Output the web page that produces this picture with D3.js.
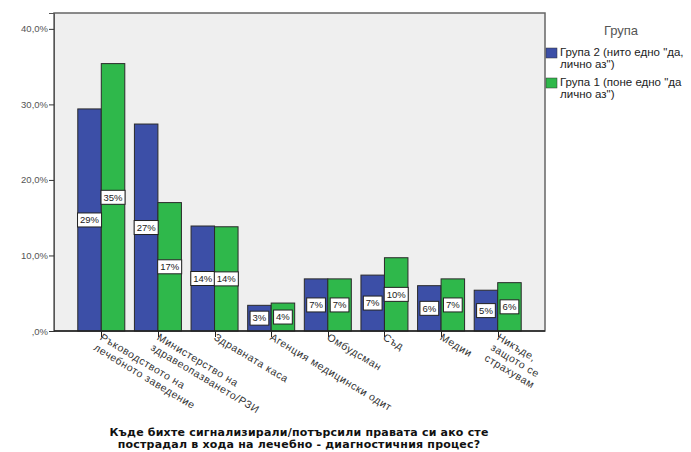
<!DOCTYPE html>
<html>
<head>
<meta charset="utf-8">
<script src="https://cdn.jsdelivr.net/npm/d3@7"></script>
<style>
body { margin: 0; background: #fff; }
text { font-family: "Liberation Sans", Arial, sans-serif; }
</style>
</head>
<body>
<svg id="drawarea"></svg>
<script>
var categories = [
    "Ръководството на\nлечебното заведение",
    "Министерство на\nздравеопазването/РЗИ",
    "Здравната каса",
    "Агенция медицински одит",
    "Омбудсман",
    "Съд",
    "Медии",
    "Никъде,\nзащото се\nстрахувам"
];
var group2 = [29.4, 27.4, 13.9, 3.4, 6.9, 7.4, 6.0, 5.4];
var group1 = [35.4, 17.0, 13.8, 3.7, 6.9, 9.7, 6.9, 6.4];
var seriesNames = ["Група 2 (нито едно \"да,\nлично аз\")", "Група 1 (поне едно \"да\nлично аз\")"];
var yTicks = [0, 10, 20, 30, 40];
var legendTitle = "Група";
var xTitle = ["Къде бихте сигнализирали/потърсили правата си ако сте", "пострадал в хода на лечебно - диагностичния процес?"];

var colors = ["#3c4fa7", "#2fb84b"];

var svg = d3.select("#drawarea").attr("width", 691).attr("height", 452);

var plotL = 54, plotR = 545, plotT = 13, plotB = 331;

var x = d3.scaleBand().domain(d3.range(categories.length))
    .range([plotL, plotR]).paddingInner(0.17).paddingOuter(0.42);
var xs = d3.scaleBand().domain([0, 1]).range([0, x.bandwidth()]);
var y = d3.scaleLinear().domain([0, 42.1]).range([plotB, plotT]);

// plot frame
svg.append("rect")
    .attr("x", plotL).attr("y", plotT)
    .attr("width", plotR - plotL).attr("height", plotB - plotT)
    .attr("fill", "#efefef").attr("stroke", "#666").attr("stroke-width", 1.5);

// y axis
var yAxis = svg.append("g").attr("transform", "translate(" + plotL + ",0)")
    .call(d3.axisLeft(y).tickValues(yTicks).tickSize(5).tickPadding(1)
        .tickFormat(function(d){ return d == 0 ? ",0%" : d3.format(".1f")(d).replace(".", ",") + "%"; }));
yAxis.select(".domain").attr("stroke", "#555");
yAxis.selectAll(".tick line").attr("stroke", "#333");
yAxis.selectAll("text").attr("font-size", 9.5).attr("fill", "#555")
    .style("font-family", "'Liberation Sans', Arial, sans-serif");

// bars
var data = [group2, group1];
var groups = svg.append("g");
data.forEach(function(series, s){
    groups.selectAll(".bar" + s)
        .data(series)
        .enter().append("rect")
        .attr("class", "bar" + s)
        .attr("x", function(d, i){ return x(i) + xs(s); })
        .attr("y", function(d){ return y(d); })
        .attr("width", xs.bandwidth())
        .attr("height", function(d){ return y(0) - y(d); })
        .attr("fill", colors[s])
        .attr("stroke", "#2a2a2a").attr("stroke-width", 1);
});

// value labels
data.forEach(function(series, s){
    series.forEach(function(d, i){
        var cx = x(i) + xs(s) + xs.bandwidth() / 2;
        var cy = (y(d) + y(0)) / 2;
        var g = svg.append("g").attr("transform", "translate(" + cx + "," + cy + ")");
        var box = g.append("rect").attr("fill", "#fff").attr("stroke", "#222").attr("stroke-width", 1);
        var t = g.append("text").attr("text-anchor", "middle").attr("dy", "0.35em")
            .attr("font-size", 9.5).attr("fill", "#222")
            .text(Math.round(d) + "%");
        var w = t.node().getComputedTextLength() + 5;
        box.attr("x", -w / 2).attr("y", -7).attr("width", w).attr("height", 14);
    });
});

// x axis
svg.append("line").attr("x1", plotL).attr("x2", plotR).attr("y1", plotB).attr("y2", plotB)
    .attr("stroke", "#222").attr("stroke-width", 1.5);
categories.forEach(function(c, i){
    var cx = Math.round(x(i) + x.bandwidth() / 2) + 0.5;
    svg.append("line").attr("x1", cx).attr("x2", cx).attr("y1", plotB).attr("y2", plotB + 6)
        .attr("stroke", "#222");
    var t = svg.append("text")
        .attr("transform", "translate(" + (cx + 2) + "," + (plotB + 1) + ") rotate(31)")
        .attr("font-size", 10.5).attr("letter-spacing", 0.6).attr("fill", "#333");
    c.split("\n").forEach(function(line, k){
        t.append("tspan").attr("x", 0).attr("y", 0).attr("dy", (0.8 + k * 1.15) + "em").text(line);
    });
});

// x title
xTitle.forEach(function(line, k){
    svg.append("text").attr("x", 299).attr("y", 436 + k * 12)
        .attr("text-anchor", "middle").attr("font-size", 11).attr("font-weight", "bold")
        .style("font-family", "'DejaVu Sans', sans-serif").attr("letter-spacing", 0.2)
        .attr("fill", "#111").text(line);
});

// legend
svg.append("text").attr("x", 621).attr("y", 35).attr("text-anchor", "middle")
    .attr("font-size", 13).attr("fill", "#555").text(legendTitle);
seriesNames.forEach(function(name, s){
    var ly = 48 + s * 30;
    svg.append("rect").attr("x", 546).attr("y", ly).attr("width", 11).attr("height", 10)
        .attr("fill", colors[s]).attr("stroke", "#333").attr("stroke-width", 0.5);
    var t = svg.append("text").attr("font-size", 11.5).attr("fill", "#222");
    name.split("\n").forEach(function(line, k){
        t.append("tspan").attr("x", 560).attr("y", ly + 8 + k * 12).text(line);
    });
});
</script>
</body>
</html>
